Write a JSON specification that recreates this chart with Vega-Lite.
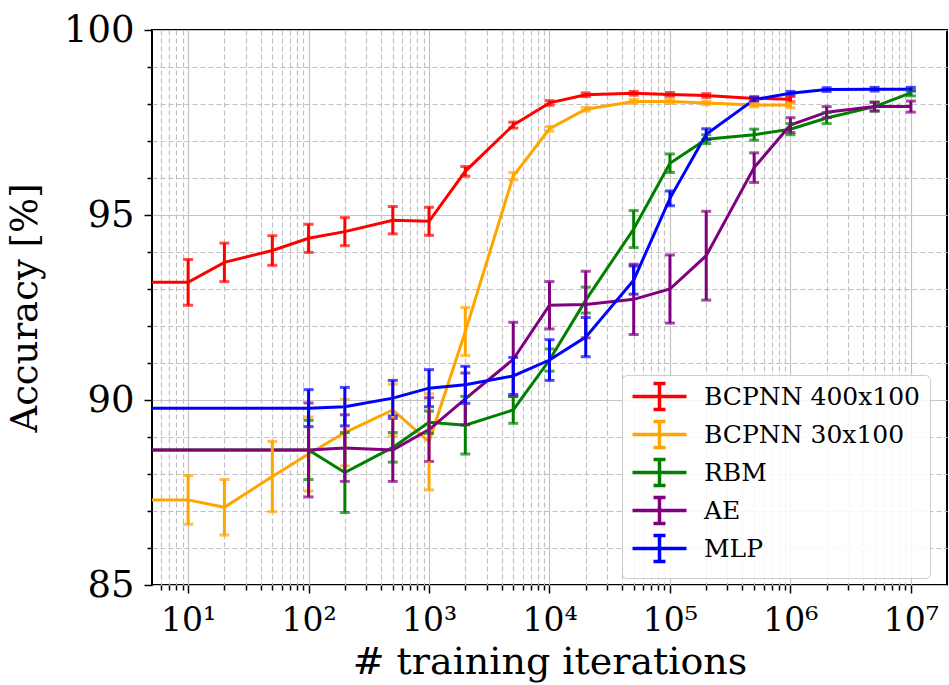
{
  "$schema": "https://vega.github.io/schema/vega-lite/v6.json",
  "width": 795,
  "height": 555,
  "autosize": {"type": "none"},
  "padding": {"left": 152, "top": 30, "right": 2, "bottom": 100},
  "background": "white",
  "config": {"view": {"stroke": "black", "strokeWidth": 2}, "font": "DejaVu Serif"},
  "data": {"values": [
    {"s": "BCPNN 400x100", "x": 1, "y": 93.18, "e": 0},
    {"s": "BCPNN 400x100", "x": 10, "y": 93.18, "e": 0.62},
    {"s": "BCPNN 400x100", "x": 20, "y": 93.72, "e": 0.52},
    {"s": "BCPNN 400x100", "x": 50, "y": 94.04, "e": 0.4},
    {"s": "BCPNN 400x100", "x": 100, "y": 94.37, "e": 0.38},
    {"s": "BCPNN 400x100", "x": 200, "y": 94.55, "e": 0.38},
    {"s": "BCPNN 400x100", "x": 500, "y": 94.86, "e": 0.37},
    {"s": "BCPNN 400x100", "x": 1000, "y": 94.83, "e": 0.38},
    {"s": "BCPNN 400x100", "x": 2000, "y": 96.18, "e": 0.13},
    {"s": "BCPNN 400x100", "x": 5000, "y": 97.43, "e": 0.08},
    {"s": "BCPNN 400x100", "x": 10000, "y": 98.03, "e": 0.06},
    {"s": "BCPNN 400x100", "x": 20000, "y": 98.25, "e": 0.05},
    {"s": "BCPNN 400x100", "x": 50000, "y": 98.29, "e": 0.05},
    {"s": "BCPNN 400x100", "x": 100000, "y": 98.26, "e": 0.05},
    {"s": "BCPNN 400x100", "x": 200000, "y": 98.23, "e": 0.05},
    {"s": "BCPNN 400x100", "x": 500000, "y": 98.15, "e": 0.05},
    {"s": "BCPNN 400x100", "x": 1000000, "y": 98.13, "e": 0.07},
    {"s": "BCPNN 30x100", "x": 1, "y": 87.3, "e": 0},
    {"s": "BCPNN 30x100", "x": 10, "y": 87.3, "e": 0.66},
    {"s": "BCPNN 30x100", "x": 20, "y": 87.1, "e": 0.75},
    {"s": "BCPNN 30x100", "x": 50, "y": 87.93, "e": 0.95},
    {"s": "BCPNN 30x100", "x": 100, "y": 88.54, "e": 1.0},
    {"s": "BCPNN 30x100", "x": 200, "y": 89.12, "e": 0.9},
    {"s": "BCPNN 30x100", "x": 500, "y": 89.73, "e": 0.7},
    {"s": "BCPNN 30x100", "x": 1000, "y": 88.87, "e": 1.3},
    {"s": "BCPNN 30x100", "x": 2000, "y": 91.85, "e": 0.65},
    {"s": "BCPNN 30x100", "x": 5000, "y": 96.05, "e": 0.1},
    {"s": "BCPNN 30x100", "x": 10000, "y": 97.33, "e": 0.06},
    {"s": "BCPNN 30x100", "x": 20000, "y": 97.86, "e": 0.05},
    {"s": "BCPNN 30x100", "x": 50000, "y": 98.07, "e": 0.05},
    {"s": "BCPNN 30x100", "x": 100000, "y": 98.07, "e": 0.05},
    {"s": "BCPNN 30x100", "x": 200000, "y": 98.03, "e": 0.05},
    {"s": "BCPNN 30x100", "x": 500000, "y": 97.97, "e": 0.05},
    {"s": "BCPNN 30x100", "x": 1000000, "y": 97.97, "e": 0.07},
    {"s": "RBM", "x": 1, "y": 88.65, "e": 0},
    {"s": "RBM", "x": 100, "y": 88.65, "e": 0.8},
    {"s": "RBM", "x": 200, "y": 88.04, "e": 1.08},
    {"s": "RBM", "x": 500, "y": 88.72, "e": 0.4},
    {"s": "RBM", "x": 1000, "y": 89.4, "e": 0.3},
    {"s": "RBM", "x": 2000, "y": 89.32, "e": 0.78},
    {"s": "RBM", "x": 5000, "y": 89.73, "e": 0.36},
    {"s": "RBM", "x": 10000, "y": 91.08, "e": 0.3},
    {"s": "RBM", "x": 20000, "y": 92.7, "e": 0.35},
    {"s": "RBM", "x": 50000, "y": 94.62, "e": 0.5},
    {"s": "RBM", "x": 100000, "y": 96.4, "e": 0.25},
    {"s": "RBM", "x": 200000, "y": 97.05, "e": 0.12},
    {"s": "RBM", "x": 500000, "y": 97.17, "e": 0.15},
    {"s": "RBM", "x": 1000000, "y": 97.32, "e": 0.15},
    {"s": "RBM", "x": 2000000, "y": 97.62, "e": 0.15},
    {"s": "RBM", "x": 5000000, "y": 97.93, "e": 0.12},
    {"s": "RBM", "x": 10000000, "y": 98.3, "e": 0.08},
    {"s": "AE", "x": 1, "y": 88.65, "e": 0},
    {"s": "AE", "x": 100, "y": 88.65, "e": 1.27},
    {"s": "AE", "x": 200, "y": 88.7, "e": 0.9},
    {"s": "AE", "x": 500, "y": 88.65, "e": 0.85},
    {"s": "AE", "x": 1000, "y": 89.2, "e": 0.86},
    {"s": "AE", "x": 2000, "y": 90.03, "e": 0.7},
    {"s": "AE", "x": 5000, "y": 91.1, "e": 1.0},
    {"s": "AE", "x": 10000, "y": 92.56, "e": 0.64},
    {"s": "AE", "x": 20000, "y": 92.58, "e": 0.9},
    {"s": "AE", "x": 50000, "y": 92.72, "e": 0.95},
    {"s": "AE", "x": 100000, "y": 93.0, "e": 0.92},
    {"s": "AE", "x": 200000, "y": 93.9, "e": 1.2},
    {"s": "AE", "x": 500000, "y": 96.28, "e": 0.4},
    {"s": "AE", "x": 1000000, "y": 97.43, "e": 0.2},
    {"s": "AE", "x": 2000000, "y": 97.78, "e": 0.15},
    {"s": "AE", "x": 5000000, "y": 97.93, "e": 0.12},
    {"s": "AE", "x": 10000000, "y": 97.93, "e": 0.15},
    {"s": "MLP", "x": 1, "y": 89.78, "e": 0},
    {"s": "MLP", "x": 100, "y": 89.78, "e": 0.5},
    {"s": "MLP", "x": 200, "y": 89.82, "e": 0.52},
    {"s": "MLP", "x": 500, "y": 90.05, "e": 0.48},
    {"s": "MLP", "x": 1000, "y": 90.32, "e": 0.5},
    {"s": "MLP", "x": 2000, "y": 90.41, "e": 0.5},
    {"s": "MLP", "x": 5000, "y": 90.65, "e": 0.5},
    {"s": "MLP", "x": 10000, "y": 91.08, "e": 0.55},
    {"s": "MLP", "x": 20000, "y": 91.7, "e": 0.53},
    {"s": "MLP", "x": 50000, "y": 93.24, "e": 0.38},
    {"s": "MLP", "x": 100000, "y": 95.45, "e": 0.2},
    {"s": "MLP", "x": 200000, "y": 97.18, "e": 0.15},
    {"s": "MLP", "x": 500000, "y": 98.12, "e": 0.06},
    {"s": "MLP", "x": 1000000, "y": 98.29, "e": 0.05},
    {"s": "MLP", "x": 2000000, "y": 98.39, "e": 0.05},
    {"s": "MLP", "x": 5000000, "y": 98.4, "e": 0.05},
    {"s": "MLP", "x": 10000000, "y": 98.4, "e": 0.05}
  ]},
  "encoding": {
    "x": {
      "field": "x", "type": "quantitative",
      "scale": {"type": "log", "domain": [5.0119, 19952623], "nice": false},
      "title": "# training iterations",
      "axis": {
        "values": [6,7,8,9,10,20,30,40,50,60,70,80,90,100,200,300,400,500,600,700,800,900,1000,2000,3000,4000,5000,6000,7000,8000,9000,10000,20000,30000,40000,50000,60000,70000,80000,90000,100000,200000,300000,400000,500000,600000,700000,800000,900000,1000000,2000000,3000000,4000000,5000000,6000000,7000000,8000000,9000000,10000000],
        "labelExpr": "abs(log(datum.value)/LN10 - round(log(datum.value)/LN10)) < 0.0001 ? '10' + ['⁰','¹','²','³','⁴','⁵','⁶','⁷'][round(log(datum.value)/LN10)] : ''",
        "domain": false,
        "tickColor": "black",
        "tickWidth": 1.5,
        "tickSize": {"condition": {"test": "abs(log(datum.value)/LN10 - round(log(datum.value)/LN10)) < 0.0001", "value": 8}, "value": 5},
        "grid": true,
        "gridColor": {"condition": {"test": "abs(log(datum.value)/LN10 - round(log(datum.value)/LN10)) < 0.0001", "value": "#c4c4c4"}, "value": "#c0c0c0"},
        "gridDash": {"condition": {"test": "abs(log(datum.value)/LN10 - round(log(datum.value)/LN10)) < 0.0001", "value": []}, "value": [5, 3]},
        "gridWidth": 1.2,
        "labelFontSize": 33,
        "labelColor": "black",
        "labelPadding": 11,
        "labelFlush": false,
        "labelOverlap": false,
        "titleFontSize": 38,
        "titleFontWeight": "normal",
        "titleColor": "black",
        "titlePadding": 6
      }
    },
    "y": {
      "field": "y", "type": "quantitative",
      "scale": {"domain": [85, 100], "nice": false, "zero": false},
      "title": "Accuracy [%]",
      "axis": {
        "values": [85,86,87,88,89,90,91,92,93,94,95,96,97,98,99,100],
        "labelExpr": "datum.value % 5 == 0 ? datum.label : ''",
        "domain": false,
        "tickColor": "black",
        "tickWidth": 1.5,
        "tickSize": {"condition": {"test": "datum.value % 5 == 0", "value": 8}, "value": 5},
        "grid": true,
        "gridColor": {"condition": {"test": "datum.value % 5 == 0", "value": "#c4c4c4"}, "value": "#c0c0c0"},
        "gridDash": {"condition": {"test": "datum.value % 5 == 0", "value": []}, "value": [5, 3]},
        "gridWidth": 1.2,
        "labelFontSize": 37,
        "labelColor": "black",
        "labelPadding": 10,
        "labelFlush": false,
        "labelOverlap": false,
        "titleFontSize": 37,
        "titleFontWeight": "normal",
        "titleColor": "black",
        "titlePadding": 19
      }
    },
    "color": {
      "field": "s", "type": "nominal",
      "scale": {
        "domain": ["BCPNN 400x100", "BCPNN 30x100", "RBM", "AE", "MLP"],
        "range": ["#ff0000", "#ffa500", "#008000", "#800080", "#0000ff"]
      },
      "legend": {
        "orient": "none",
        "legendX": 470,
        "legendY": 345,
        "title": null,
        "symbolType": "M-1.1,0L4.3,0M1.6,-1.3L1.6,1.3M1,-1.3L2.2,-1.3M1,1.3L2.2,1.3",
        "symbolSize": 400,
        "symbolStrokeWidth": 3.5,
        "symbolOpacity": 1,
        "symbolFillColor": "transparent",
        "labelFontSize": 25,
        "labelFont": "DejaVu Serif",
        "labelColor": "black",
        "labelOffset": 48,
        "labelLimit": 400,
        "padding": 9,
        "rowPadding": -3,
        "fillColor": "rgba(255,255,255,0.85)",
        "strokeColor": "#cccccc",
        "cornerRadius": 5
      }
    }
  },
  "layer": [
    {"mark": {"type": "line", "strokeWidth": 3, "clip": true}},
    {
      "transform": [{"filter": "datum.e > 0"}],
      "mark": {"type": "errorbar", "thickness": 3, "ticks": {"size": 10, "thickness": 3}, "clip": true},
      "encoding": {"yError": {"field": "e"}}
    }
  ]
}
